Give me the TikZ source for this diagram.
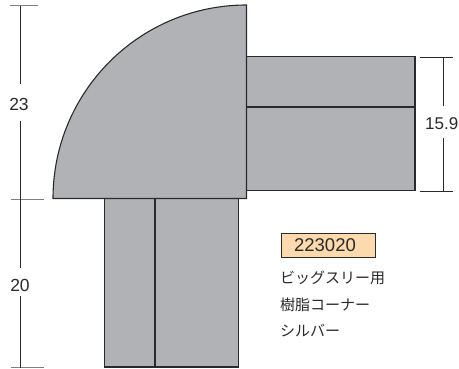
\documentclass[tikz,border=0pt]{standalone}
\usepackage{fontspec}
\setmainfont{Liberation Sans}
\newfontfamily\cjk{Noto Sans CJK JP}
\definecolor{bodygray}{HTML}{B1B2B5}
\definecolor{inkdark}{HTML}{2B2A2B}
\definecolor{tickgray}{HTML}{808080}
\definecolor{peach}{HTML}{FDD9AE}
\tikzset{
  x=1pt,y=-1pt,
  part/.style={draw=inkdark,line width=1.1pt,fill=bodygray,line join=miter},
  divider/.style={draw=inkdark,line width=1.1pt},
  dimline/.style={draw=inkdark,line width=0.8pt},
  dimtick/.style={draw=tickgray,line width=1pt},
  dimtext/.style={font=\fontsize{17.5}{20}\selectfont,text=inkdark,inner sep=0pt},
  jptext/.style={font=\cjk\fontsize{15}{18}\selectfont,text=inkdark,inner sep=0pt,anchor=west},
  codebox/.style={draw=inkdark,line width=0.8pt,fill=peach}
}
\begin{document}
\begin{tikzpicture}
\useasboundingbox (0,0) rectangle (459,369);
% parts
\draw[part] (246.5,56.5) rectangle (415,190.5);
\draw[divider] (246.5,107) -- (415,107);
\draw[part] (104.5,198.5) rectangle (238.5,367);
\draw[divider] (155,198.5) -- (155,367);
\draw[part] (53,198.5) arc[start angle=180,end angle=90,radius=193.5,y radius=-193.5] -- (246.5,198.5) -- cycle;
% left dimensions
\draw[dimtick] (10,6) -- (38,6);
\draw[dimtick] (11,200) -- (44,200);
\draw[dimtick] (11,368) -- (44,368);
\node[dimtext] (d23) at (19,104) {23};
\node[dimtext] (d20) at (20,285) {20};
\coordinate (a1) at (20.5,6);
\coordinate (a2) at (20.5,84);
\coordinate (a3) at (20.5,121);
\coordinate (a4) at (20.5,268);
\coordinate (a5) at (20.5,296);
\coordinate (a6) at (20.5,368);
\draw[dimline] (a1) -- (a2);
\draw[dimline] (a3) -- (a4);
\draw[dimline] (a5) -- (a6);
% right dimension
\draw[dimline] (420,57) -- (453,57);
\draw[dimline] (420,191) -- (453,191);
\node[dimtext,anchor=west,font=\fontsize{17}{20}\selectfont] (d159) at (425,124) {15.9};
\coordinate (b1) at (443.5,57);
\coordinate (b2) at (443.5,106);
\coordinate (b3) at (443.5,138);
\coordinate (b4) at (443.5,191);
\draw[dimline] (b1) -- (b2);
\draw[dimline] (b3) -- (b4);
% label
\draw[codebox] (281,233.5) rectangle (375,257);
\node[dimtext,font=\fontsize{18.5}{20}\selectfont] (code) at (325,245.5) {223020};
\node[jptext] (j1) at (280,278) {ビッグスリー用};
\node[jptext] (j2) at (280,304.5) {樹脂コーナー};
\node[jptext] (j3) at (280,331) {シルバー};
\end{tikzpicture}
\end{document}
